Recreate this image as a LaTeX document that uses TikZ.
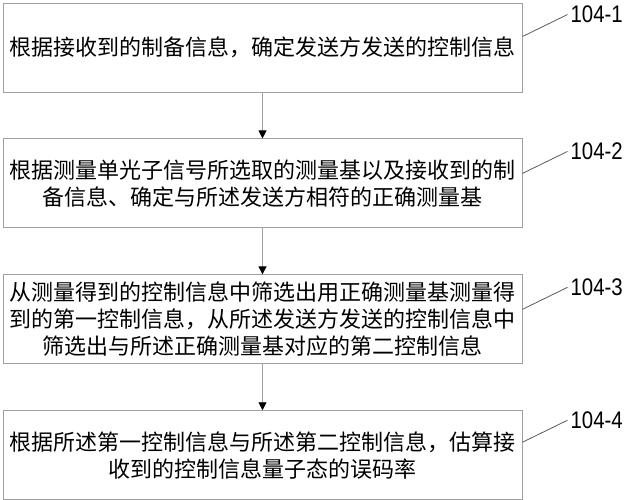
\documentclass[tikz,border=0pt]{standalone}
\usepackage{fontspec}
\usepackage{graphicx}
\setmainfont{Liberation Sans}
\newfontfamily\cjk{Noto Sans CJK SC}
\definecolor{boxgray}{RGB}{160, 160, 160}
\definecolor{linegray}{RGB}{90, 90, 90}
\usetikzlibrary{arrows.meta, positioning, calc}
\tikzset{
    stepbox/.style={rectangle, draw=boxgray, line width=0.9pt, text width=509pt, inner xsep=5pt,
                    minimum height=89pt, align=center, font=\cjk\fontsize{22}{27}\selectfont},
    tag/.style={font=\fontsize{24}{24}\selectfont, inner sep=3pt},
    tagline/.style={linegray, line width=0.8pt},
    arrow/.style={-{Triangle[length=8pt, width=8pt, black]}, boxgray, line width=0.9pt},
}
\begin{document}
\begin{tikzpicture}
    \useasboundingbox (0,0) rectangle (633pt,-500pt);
    \node[stepbox] (rx) at (262.5pt, -47.5pt) {根据接收到的制备信息，确定发送方发送的控制信息};
    \node[stepbox, below=46pt of rx] (basis) {根据测量单光子信号所选取的测量基以及接收到的制\\备信息、确定与所述发送方相符的正确测量基};
    \node[stepbox, below=46pt of basis] (sift) {从测量得到的控制信息中筛选出用正确测量基测量得\\到的第一控制信息，从所述发送方发送的控制信息中\\筛选出与所述正确测量基对应的第二控制信息};
    \node[stepbox, below=46pt of sift] (qber) {根据所述第一控制信息与所述第二控制信息，估算接\\收到的控制信息量子态的误码率};

    \draw[arrow] (rx) -- (basis);
    \draw[arrow] (basis) -- (sift);
    \draw[arrow] (sift) -- (qber);

    % step numbers
    \node[tag, anchor=west] (t1) at ($(rx.north east)+(45pt,-12pt)$) {\scalebox{0.85}[1]{104-1}};
    \node[tag, anchor=west] (t2) at ($(basis.north east)+(45pt,-13pt)$) {\scalebox{0.85}[1]{104-2}};
    \node[tag, anchor=west] (t3) at ($(sift.north east)+(45pt,-13pt)$) {\scalebox{0.85}[1]{104-3}};
    \node[tag, anchor=west] (t4) at ($(qber.north east)+(45pt,-10pt)$) {\scalebox{0.85}[1]{104-4}};
    \coordinate (c1) at ($(rx.north east)+(0,-34pt)$);
    \coordinate (c2) at ($(basis.north east)+(0,-35pt)$);
    \coordinate (c3) at ($(sift.north east)+(0,-35pt)$);
    \coordinate (c4) at ($(qber.north east)+(0,-32pt)$);
    \draw[tagline] (c1) -- (t1.west);
    \draw[tagline] (c2) -- (t2.west);
    \draw[tagline] (c3) -- (t3.west);
    \draw[tagline] (c4) -- (t4.west);
\end{tikzpicture}
\end{document}
